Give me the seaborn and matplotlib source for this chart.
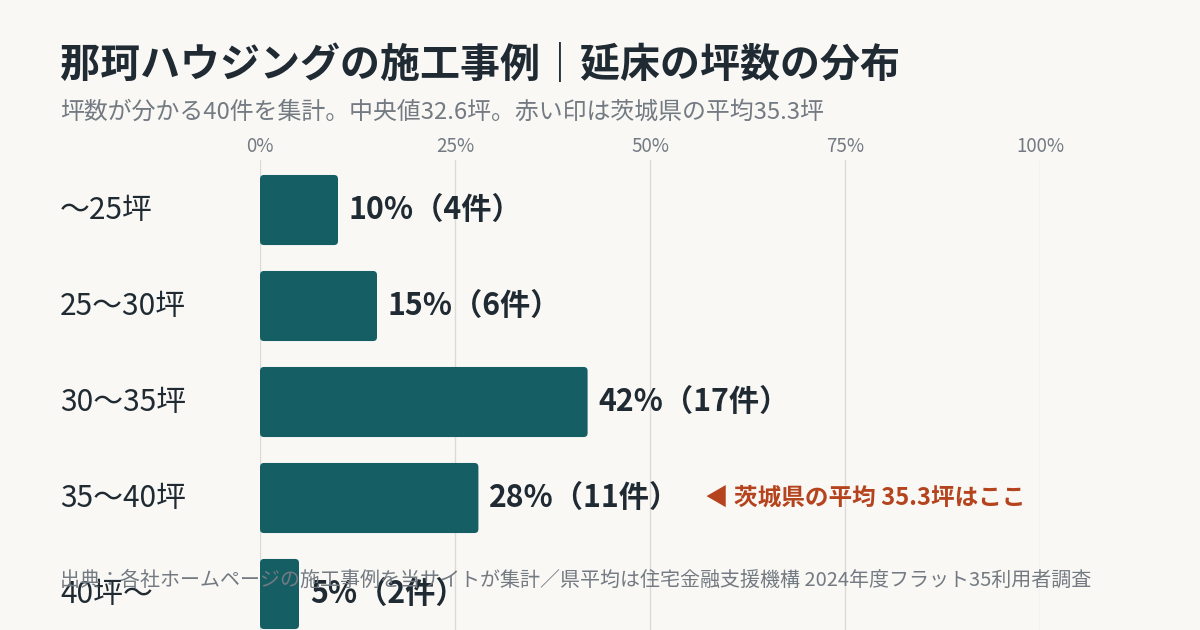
import seaborn as sns
import pandas as pd
import numpy as np
import matplotlib.pyplot as plt
from matplotlib.patches import FancyBboxPatch
from matplotlib.transforms import blended_transform_factory

categories = ["～25坪", "25～30坪", "30～35坪", "35～40坪", "40坪～"]
shares = [10, 15, 42, 28, 5]
counts = [4, 6, 17, 11, 2]
ticks = [0, 25, 50, 75, 100]
tick_labels = ["0%", "25%", "50%", "75%", "100%"]

title = "那珂ハウジングの施工事例｜延床の坪数の分布"
subtitle = "坪数が分かる40件を集計。中央値32.6坪。赤い印は茨城県の平均35.3坪"
note = "◀ 茨城県の平均 35.3坪はここ"
source = "出典：各社ホームページの施工事例を当サイトが集計／県平均は住宅金融支援機構 2024年度フラット35利用者調査"

df = pd.DataFrame({"区分": categories, "割合": shares, "件数": counts})

BG = "#f9f8f5"
BAR = "#155e63"
INK = "#1f2a33"
GRAY = "#737a82"
RED = "#b5441e"

sns.set_theme(style="white")
plt.rcParams["font.family"] = ["Noto Sans CJK JP", "DejaVu Sans"]

fig = plt.figure(figsize=(12, 6.3), dpi=100, facecolor=BG)
ax = fig.add_axes([260 / 1200, 0, 780 / 1200, 470 / 630])
ax.set_facecolor(BG)

sns.barplot(data=df, x="割合", y="区分", color=BAR, width=0.73, saturation=1, ax=ax, zorder=2)

# rounded corners
px_x = 780 / 100
px_y = 96
for p in list(ax.patches):
    x0, y0 = p.get_x(), p.get_y()
    w, h = p.get_width(), p.get_height()
    p.set_visible(False)
    r = 4 / px_x
    fb = FancyBboxPatch((x0, y0), w, h, boxstyle=f"round,pad=0,rounding_size={r}",
                        mutation_aspect=(4 / px_y) / r, facecolor=BAR, edgecolor="none", zorder=2)
    ax.add_patch(fb)

ax.set_xlim(0, 100)
ax.set_ylim(4.375, -0.521)
ax.set_xticks(ticks)
ax.set_xticklabels(tick_labels)
ax.xaxis.tick_top()
ax.tick_params(axis="x", length=0, pad=2, labelsize=13.5, labelcolor=GRAY)
ax.tick_params(axis="y", length=0, labelsize=0)
ax.set_yticklabels([])
ax.set_xlabel("")
ax.set_ylabel("")
ax.grid(axis="x", color="#dcdad5", linewidth=1, zorder=0)
for s in ax.spines.values():
    s.set_visible(False)

lab_tr = blended_transform_factory(fig.transFigure, ax.transData)
for i, (cat, v, n) in enumerate(zip(categories, shares, counts)):
    ax.text(v + 1.4, i, f"{v}%（{n}件）", va="center", ha="left",
            fontsize=21.8, fontweight="bold", color=INK, zorder=3)
    fig.text(60 / 1200, i, cat, transform=lab_tr, va="center", ha="left",
             fontsize=21.5, color=INK)

# annotation for the prefecture average
idx = categories.index("35～40坪")
ax.text(57, idx, note, va="center", ha="left", fontsize=17, fontweight="bold", color=RED, zorder=3)

fig.text(60 / 1200, 1 - 65 / 630, title, va="center", ha="left",
         fontsize=28.8, fontweight="bold", color=INK)
fig.text(60 / 1200, 1 - 112 / 630, subtitle, va="center", ha="left",
         fontsize=17.2, color=GRAY)
fig.text(60 / 1200, 1 - 580 / 630, source, va="center", ha="left",
         fontsize=14.4, color=GRAY, zorder=5)

fig.savefig("out.png", dpi=100, facecolor=BG)
